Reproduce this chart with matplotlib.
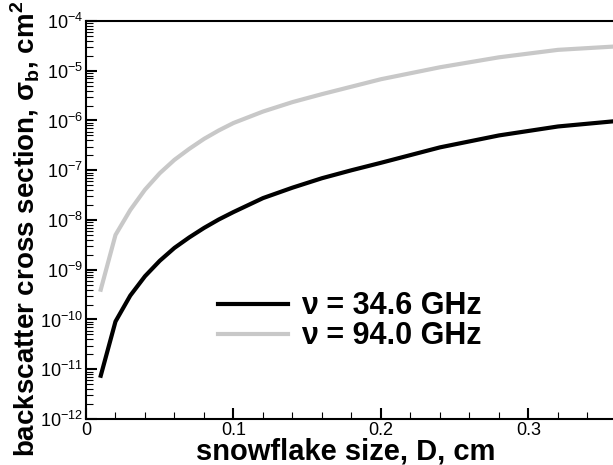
import numpy as np
import matplotlib
matplotlib.use("Agg")
import matplotlib.pyplot as plt
from matplotlib.ticker import MultipleLocator, LogLocator, NullFormatter

plt.rcParams['font.family'] = ['Liberation Sans', 'DejaVu Sans']
plt.rcParams['mathtext.fontset'] = 'custom'
plt.rcParams['mathtext.rm'] = 'Liberation Sans'
plt.rcParams['mathtext.bf'] = 'Liberation Sans:bold'

# snowflake size D (cm)
size_d = [0.01, 0.02, 0.03, 0.04, 0.05, 0.06, 0.07, 0.08, 0.09, 0.10,
          0.12, 0.14, 0.16, 0.18, 0.20, 0.24, 0.28, 0.32, 0.36]
# log10 of backscatter cross section (cm^2)
log_sigma_346 = [-11.13, -10.04, -9.52, -9.13, -8.82, -8.56, -8.35, -8.16, -7.99, -7.84,
                 -7.56, -7.35, -7.16, -7.00, -6.85, -6.54, -6.30, -6.12, -6.01]
log_sigma_940 = [-9.40, -8.30, -7.80, -7.39, -7.06, -6.79, -6.57, -6.37, -6.20, -6.05,
                 -5.82, -5.63, -5.47, -5.32, -5.17, -4.93, -4.73, -4.58, -4.51]
labels = ['ν = 34.6 GHz', 'ν = 94.0 GHz']

sigma_346 = 10.0 ** np.array(log_sigma_346)
sigma_940 = 10.0 ** np.array(log_sigma_940)

fig = plt.figure(figsize=(6.13, 4.65), dpi=100)
ax = fig.add_axes([86 / 613, 46 / 465, 588.5 / 613, 398 / 465])

ax.plot(size_d, sigma_346, color='black', lw=3, label=labels[0])
ax.plot(size_d, sigma_940, color='#c8c8c8', lw=3, label=labels[1])

ax.set_yscale('log')
ax.set_xlim(0, 0.399)
ax.set_ylim(1e-12, 1e-4)

ax.xaxis.set_major_locator(MultipleLocator(0.1))
ax.xaxis.set_minor_locator(MultipleLocator(0.02))
ax.yaxis.set_major_locator(LogLocator(base=10, numticks=20))
ax.yaxis.set_minor_locator(LogLocator(base=10, subs=np.arange(2, 10), numticks=20))
ax.yaxis.set_minor_formatter(NullFormatter())
ax.xaxis.set_major_formatter(plt.FuncFormatter(lambda v, p: '0' if v == 0 else f'{v:.1f}'))

ax.tick_params(which='both', direction='in', top=False, right=False, labelsize=13)
ax.tick_params(which='major', length=7.7, width=1.5)
ax.tick_params(which='minor', length=4.8, width=0.8)
ax.tick_params(axis='x', pad=2.5)
ax.tick_params(axis='y', pad=2)
for s in ax.spines.values():
    s.set_linewidth(1.5)

ax.set_xlabel('snowflake size, D, cm', fontsize=21, fontweight='bold')
ax.xaxis.set_label_coords(0.442, -0.046)
ax.set_ylabel(r'backscatter cross section, σ$_\mathbf{b}$, cm$^\mathbf{2}$',
              fontsize=20, fontweight='bold')
ax.yaxis.set_label_coords(-0.075, 0.478)

leg = ax.legend(loc='center left', bbox_to_anchor=(0.2237, 0.245), frameon=False,
                handlelength=2.29, handletextpad=0.45, labelspacing=0.0,
                borderpad=0, borderaxespad=0,
                prop={'size': 22, 'weight': 'bold'})

fig.savefig('out.png', dpi=100)
